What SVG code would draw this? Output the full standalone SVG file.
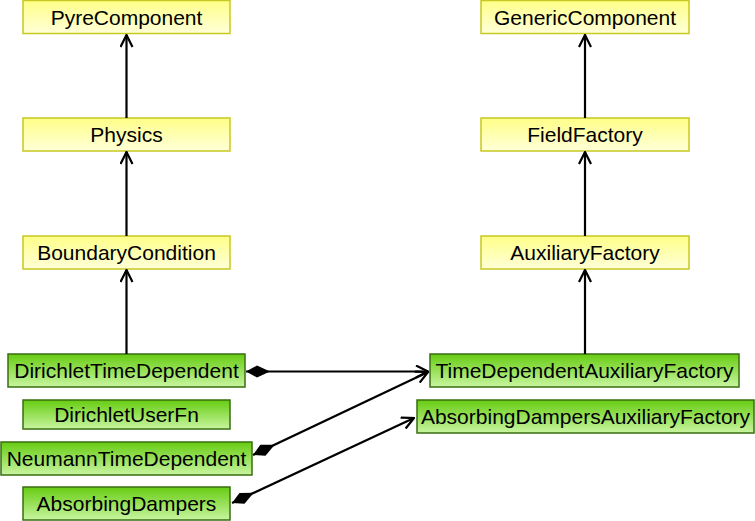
<svg xmlns="http://www.w3.org/2000/svg" width="755" height="521" viewBox="0 0 755 521">
<defs>
<linearGradient id="gy" x1="0" y1="0" x2="0" y2="1">
<stop offset="0" stop-color="#ffff88"/>
<stop offset="1" stop-color="#ffffd8"/>
</linearGradient>
<linearGradient id="gg" x1="0" y1="0" x2="0" y2="1">
<stop offset="0" stop-color="#66cc11"/>
<stop offset="1" stop-color="#c8f5a0"/>
</linearGradient>
<marker id="open" viewBox="0 0 14 14" refX="13" refY="7" markerWidth="14" markerHeight="14" markerUnits="userSpaceOnUse" orient="auto">
<path d="M1,1 L13,7 L1,13" fill="none" stroke="#000" stroke-width="2.2"/>
</marker>
<marker id="dia" viewBox="0 0 26 14" refX="1" refY="7" markerWidth="26" markerHeight="14" markerUnits="userSpaceOnUse" orient="auto">
<path d="M1,7 L12,1 L25,7 L12,13 Z" fill="#000"/>
</marker>
</defs>
<style>
.y rect{fill:url(#gy);stroke:#c8c820;stroke-width:1.5}
.g rect{fill:url(#gg);stroke:#3a6e10;stroke-width:1.5}
text{font-family:"Liberation Sans",Arial,sans-serif;font-size:21px;text-anchor:middle;fill:#000}
.c line{stroke:#000;stroke-width:2.2}
</style>
<g id="PyreComponent" class="y"><rect x="23" y="0.5" width="207" height="33"/><text x="126.5" y="24.5">PyreComponent</text></g>
<g id="Physics" class="y"><rect x="23" y="118" width="207" height="33"/><text x="126.5" y="142">Physics</text></g>
<g id="BoundaryCondition" class="y"><rect x="23" y="236" width="207" height="33"/><text x="126.5" y="260">BoundaryCondition</text></g>
<g id="GenericComponent" class="y"><rect x="481" y="0.5" width="208" height="33"/><text x="585" y="24.5">GenericComponent</text></g>
<g id="FieldFactory" class="y"><rect x="481" y="118" width="208" height="33"/><text x="585" y="142">FieldFactory</text></g>
<g id="AuxiliaryFactory" class="y"><rect x="481" y="236" width="208" height="33"/><text x="585" y="260">AuxiliaryFactory</text></g>
<g id="DirichletTimeDependent" class="g"><rect x="8" y="354" width="237" height="33"/><text x="126.5" y="378">DirichletTimeDependent</text></g>
<g id="DirichletUserFn" class="g"><rect x="23" y="400" width="207" height="29"/><text x="126.5" y="422">DirichletUserFn</text></g>
<g id="NeumannTimeDependent" class="g"><rect x="1" y="442" width="251" height="33"/><text x="126.5" y="466">NeumannTimeDependent</text></g>
<g id="AbsorbingDampers" class="g"><rect x="23" y="487" width="207" height="33"/><text x="126.5" y="511">AbsorbingDampers</text></g>
<g id="TimeDependentAuxiliaryFactory" class="g"><rect x="430" y="354" width="309" height="33"/><text x="584.5" y="378">TimeDependentAuxiliaryFactory</text></g>
<g id="AbsorbingDampersAuxiliaryFactory" class="g"><rect x="417" y="400" width="337" height="33"/><text x="585.5" y="424">AbsorbingDampersAuxiliaryFactory</text></g>
<g id="connectors" class="c">
<line x1="126.5" y1="118" x2="126.5" y2="35" marker-end="url(#open)"/>
<line x1="126.5" y1="236" x2="126.5" y2="152" marker-end="url(#open)"/>
<line x1="126.5" y1="354" x2="126.5" y2="270" marker-end="url(#open)"/>
<line x1="585" y1="118" x2="585" y2="35" marker-end="url(#open)"/>
<line x1="585" y1="236" x2="585" y2="152" marker-end="url(#open)"/>
<line x1="585" y1="354" x2="585" y2="270" marker-end="url(#open)"/>
<line x1="246" y1="371.5" x2="428" y2="371.5" marker-start="url(#dia)" marker-end="url(#open)"/>
<line x1="253" y1="455" x2="428" y2="372" marker-start="url(#dia)" marker-end="url(#open)"/>
<line x1="232" y1="503" x2="414" y2="418" marker-start="url(#dia)" marker-end="url(#open)"/>
</g>
</svg>
